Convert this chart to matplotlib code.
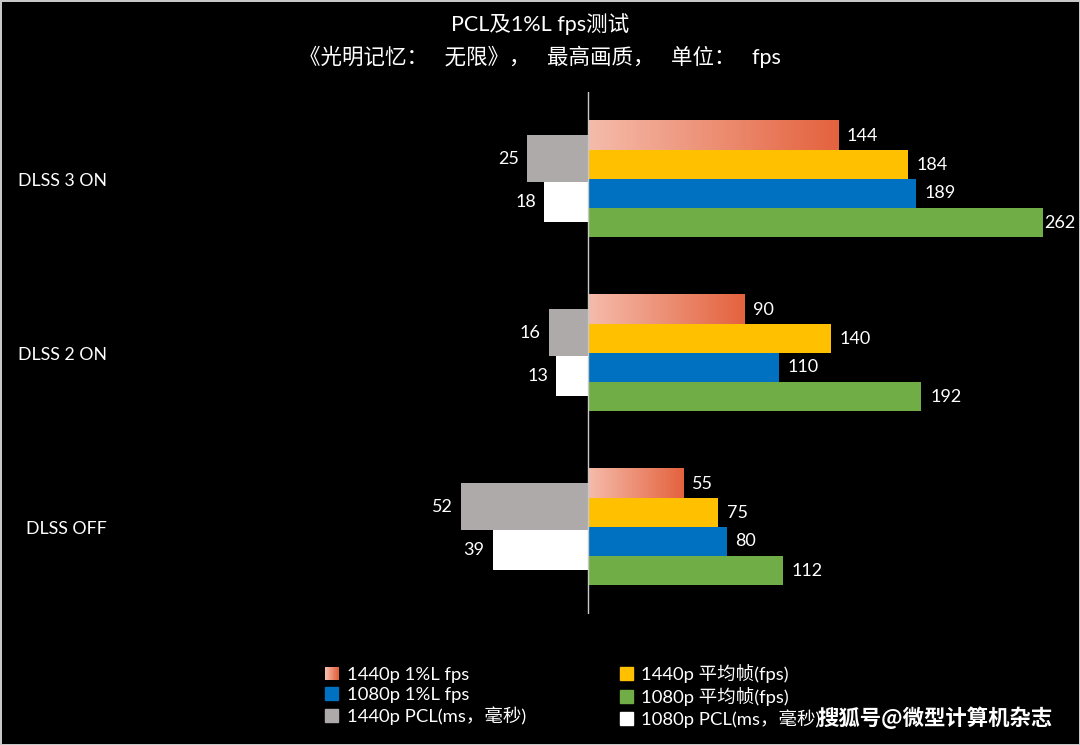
import numpy as np
import matplotlib.pyplot as plt
from matplotlib.colors import LinearSegmentedColormap
from matplotlib.patches import Rectangle, Patch
from matplotlib.legend_handler import HandlerBase

plt.rcParams['font.family'] = ['Lato', 'Noto Sans CJK SC', 'DejaVu Sans']

# data
categories = ['DLSS 3 ON', 'DLSS 2 ON', 'DLSS OFF']
low_1440 = [144, 90, 55]
avg_1440 = [184, 140, 75]
low_1080 = [189, 110, 80]
avg_1080 = [262, 192, 112]
pcl_1440 = [25, 16, 52]
pcl_1080 = [18, 13, 39]

labels = ['1440p 1%L fps', '1440p 平均帧(fps)', '1080p 1%L fps',
          '1080p 平均帧(fps)', '1440p PCL(ms，毫秒)', '1080p PCL(ms，毫秒)']

red_cmap = LinearSegmentedColormap.from_list('red_grad', ['#F5BCAB', '#E4623E'])
gold = '#FFC000'
blue = '#0070C0'
green = '#70AD47'
gray = '#AEAAAA'
white = '#FFFFFF'

fig = plt.figure(figsize=(10.8, 7.45), dpi=100, facecolor='black')
fig.patch.set_edgecolor('#C8C8C8')
fig.patch.set_linewidth(2)

ax = fig.add_axes([115/1080, 1 - 614/745, 935/1080, 522/745])
ax.set_facecolor('black')
ax2 = ax.twiny()

xmax_fps = 266
y = np.arange(len(categories))
h = 0.167
offs = [-0.25, -0.083, 0.083, 0.25]

# 1440p 1%L with gradient
grad = np.linspace(0, 1, 256).reshape(1, -1)
for i, v in enumerate(low_1440):
    yc = y[i] + offs[0]
    ax.imshow(grad, extent=[0, v, yc + h/2, yc - h/2], cmap=red_cmap,
              aspect='auto', interpolation='bicubic', zorder=2)
ax.barh(y + offs[1], avg_1440, height=h, color=gold, zorder=2)
ax.barh(y + offs[2], low_1080, height=h, color=blue, zorder=2)
ax.barh(y + offs[3], avg_1080, height=h, color=green, zorder=2)

for vals, off in zip([low_1440, avg_1440, low_1080, avg_1080], offs):
    for i, v in enumerate(vals):
        ax.text(min(v + 5, xmax_fps - 3.3), y[i] + off, str(v), ha='left',
                va='center', color='white', fontsize=13)

# PCL on its own scale, drawn to the left
ax2.barh(y - 0.117, [-v for v in pcl_1440], height=0.27, color=gray, zorder=2)
ax2.barh(y + 0.132, [-v for v in pcl_1080], height=0.23, color=white, zorder=2)
for i, v in enumerate(pcl_1440):
    ax2.text(-v - 3.3, y[i] - 0.117, str(v), ha='right', va='center',
             color='white', fontsize=13)
for i, v in enumerate(pcl_1080):
    ax2.text(-v - 3.3, y[i] + 0.132, str(v), ha='right', va='center',
             color='white', fontsize=13)

ax.set_xlim(-272.3, xmax_fps)
ax2.set_xlim(-193.5, 189)
ax.set_ylim(2.5, -0.5)
ax2.axvline(0, color='#C8C8C8', lw=1, zorder=5)

ax.set_yticks(y, categories)
ax.tick_params(axis='y', length=0, colors='white', labelsize=12.8, pad=6)
ax.set_xticks([])
ax2.set_xticks([])
for a in (ax, ax2):
    for s in a.spines.values():
        s.set_visible(False)

fig.text(0.5, 1 - 24/745, 'PCL及1%L fps测试', ha='center', va='center',
         color='white', fontsize=15.5)
fig.text(0.5, 1 - 57/745, '《光明记忆：   无限》，   最高画质，   单位：   fps',
         ha='center', va='center', color='white', fontsize=15.5)


class GradientHandler(HandlerBase):
    def create_artists(self, legend, orig_handle, xdescent, ydescent,
                       width, height, fontsize, trans):
        n = 16
        arts = []
        for k in range(n):
            r = Rectangle((-xdescent + width * k / n, -ydescent), width / n + 0.3,
                          height, facecolor=red_cmap(k / (n - 1)),
                          edgecolor='none', transform=trans)
            arts.append(r)
        return arts


grad_handle = Patch(facecolor='#EE8F73')
handles = [grad_handle, Patch(color=blue), Patch(color=gray),
           Patch(color=gold), Patch(color=green), Patch(color=white)]
leg_labels = [labels[0], labels[2], labels[4], labels[1], labels[3], labels[5]]
leg = fig.legend(handles, leg_labels, ncol=2, loc='upper center',
                 bbox_to_anchor=(573/1080, 1 - 647/745), frameon=False,
                 fontsize=13.3, labelcolor='white', handlelength=0.7,
                 handleheight=0.7, handletextpad=0.45, labelspacing=0.22,
                 columnspacing=5.1,
                 handler_map={grad_handle: GradientHandler()})

fig.text(1053/1080, 1 - 718/745, '搜狐号@微型计算机杂志', ha='right', va='center',
         color='white', fontsize=15.4, fontweight='bold',
         family=['Noto Sans CJK SC'], zorder=10)

fig.savefig('out.png', dpi=100, facecolor=fig.get_facecolor(),
            edgecolor=fig.get_edgecolor())
